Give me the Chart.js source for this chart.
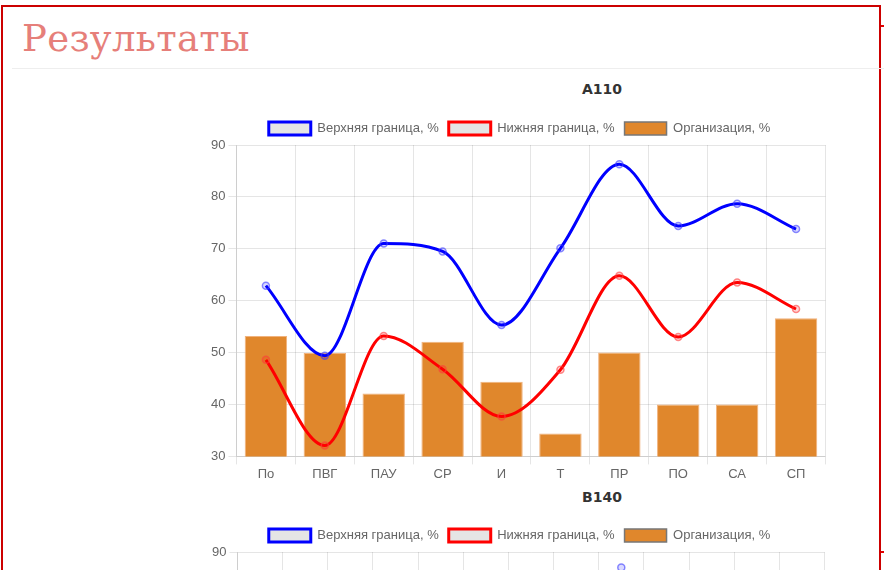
<!DOCTYPE html>
<html lang="ru">
<head>
<meta charset="utf-8">
<title>Результаты</title>
<script src="https://cdn.jsdelivr.net/npm/chart.js@4/dist/chart.umd.min.js"></script>
<style>
  html, body { margin: 0; padding: 0; background: #fff; overflow: hidden; }
  body { width: 884px; height: 570px; position: relative; font-family: "Liberation Sans", Arial, sans-serif; }
  .frame { position: absolute; left: 1px; top: 5px; width: 880px; height: 600px;
           border: 2px solid #cc0000; border-bottom: none; box-sizing: border-box; }
  .nub { position: absolute; left: 881px; width: 3px; height: 2px; background: #e00000; }
  .page-title { position: absolute; left: 22px; top: 17px; margin: 0;
                font-family: "DejaVu Serif", serif; font-weight: normal; font-size: 37px;
                color: #e67f7a; letter-spacing: 0.3px; }
  .rule { position: absolute; left: 12px; top: 68px; width: 872px; height: 1px; background: #eeeeee; }
  .chart-title { position: absolute; width: 200px; text-align: center;
                 font-family: "DejaVu Sans", sans-serif; font-weight: bold; font-size: 14px; color: #333; }
  .chart-box { position: absolute; }
</style>
</head>
<body>
<div class="frame"></div>
<div class="nub" style="top:25px"></div>
<div class="nub" style="top:551px"></div>
<h1 class="page-title">Результаты</h1>
<div class="rule"></div>

<div class="chart-title" style="left:502px; top:81px;">A110</div>
<div class="chart-box" style="left:208px; top:112px; width:623px; height:372px;">
  <canvas id="chart-a110"></canvas>
</div>

<div class="chart-title" style="left:502px; top:489px;">B140</div>
<div class="chart-box" style="left:209px; top:519px; width:621px; height:372px;">
  <canvas id="chart-b140"></canvas>
</div>

<script>
  // ── Данные ──────────────────────────────────────────────────────
  const SERIES_NAMES = ["Верхняя граница, %", "Нижняя граница, %", "Организация, %"];

  const A110_LABELS = ["По", "ПВГ", "ПАУ", "СР", "И", "Т", "ПР", "ПО", "СА", "СП"];
  const A110_UPPER = [62.9, 49.4, 71.0, 69.5, 55.3, 70.1, 86.3, 74.4, 78.7, 73.8];
  const A110_LOWER = [48.6, 32.1, 53.2, 46.8, 37.7, 46.7, 64.8, 53.0, 63.5, 58.4];
  const A110_ORG = [53.2, 49.9, 42.1, 52.1, 44.4, 34.4, 50.0, 40.0, 40.0, 56.6];

  // Второй график почти целиком за краем кадра: видна только вершина одной точки.
  const B140_LABELS = ["", "", "", "", "", "", "", "", "", "", "", "", ""];
  const B140_UPPER = [null, null, null, null, null, null, null, null, 87.0, null, null, null, null];
  const B140_LOWER = [null, null, null, null, null, null, null, null, null, null, null, null, null];
  const B140_ORG = [null, null, null, null, null, null, null, null, null, null, null, null, null];

  const Y_MIN = 30;
  const Y_MAX = 90;
  const Y_STEP = 10;

  // ── Стиль ────────────────────────────────────────────────────────
  const BLUE = "#0000ff";
  const RED = "#ff0000";
  const ORANGE = "#e0872c";
  const GRID = "rgba(0,0,0,0.1)";

  Chart.defaults.font.family = "'Liberation Sans', Arial, sans-serif";
  Chart.defaults.font.size = 13;
  Chart.defaults.color = "#666";

  function lineDataset(label, data, color, pointFill, pointEdge) {
    return {
      type: "line",
      label,
      data,
      borderColor: color,
      backgroundColor: "rgba(0,0,0,0.1)",
      borderWidth: 3,
      fill: false,
      cubicInterpolationMode: "monotone",
      pointRadius: 3.5,
      pointBorderWidth: 1.5,
      pointBorderColor: pointEdge,
      pointBackgroundColor: pointFill,
      order: 0,
    };
  }

  function buildChart(canvasId, labels, upper, lower, org) {
    const n = labels.length;
    return new Chart(document.getElementById(canvasId), {
      type: "bar",
      data: {
        labels,
        datasets: [
          lineDataset(SERIES_NAMES[0], upper, BLUE, "rgba(0,0,255,0.15)", "rgba(60,60,255,0.6)"),
          lineDataset(SERIES_NAMES[1], lower, RED, "rgba(255,0,0,0.15)", "rgba(255,60,60,0.6)"),
          {
            type: "bar",
            label: SERIES_NAMES[2],
            data: org,
            backgroundColor: ORANGE,
            borderColor: "rgba(240,170,110,0.9)",
            borderWidth: 1,
            order: 1,
          },
        ],
      },
      options: {
        responsive: true,
        maintainAspectRatio: false,
        animation: false,
        layout: { padding: 0 },
        plugins: {
          title: { display: false },
          tooltip: { enabled: false },
          legend: {
            display: true,
            position: "top",
            labels: {
              boxWidth: 42,
              padding: 10,
              generateLabels(chart) {
                const items = Chart.defaults.plugins.legend.labels.generateLabels(chart);
                return items.map((it) => {
                  if (it.datasetIndex === 2) {
                    it.strokeStyle = "#777";
                    it.lineWidth = 1.5;
                  } else {
                    it.fillStyle = "#e5e5e5";
                    it.lineWidth = 3;
                  }
                  return it;
                });
              },
            },
          },
        },
        scales: {
          x: {
            ticks: { padding: 2 },
            grid: {
              offset: true,
              color: (ctx) => (ctx.index === n ? "transparent" : GRID),
            },
            border: { color: GRID },
          },
          y: {
            min: Y_MIN,
            max: Y_MAX,
            ticks: { stepSize: Y_STEP },
            grid: { color: GRID },
            border: { color: GRID },
          },
        },
      },
    });
  }

  buildChart("chart-a110", A110_LABELS, A110_UPPER, A110_LOWER, A110_ORG);
  buildChart("chart-b140", B140_LABELS, B140_UPPER, B140_LOWER, B140_ORG);
</script>
</body>
</html>
